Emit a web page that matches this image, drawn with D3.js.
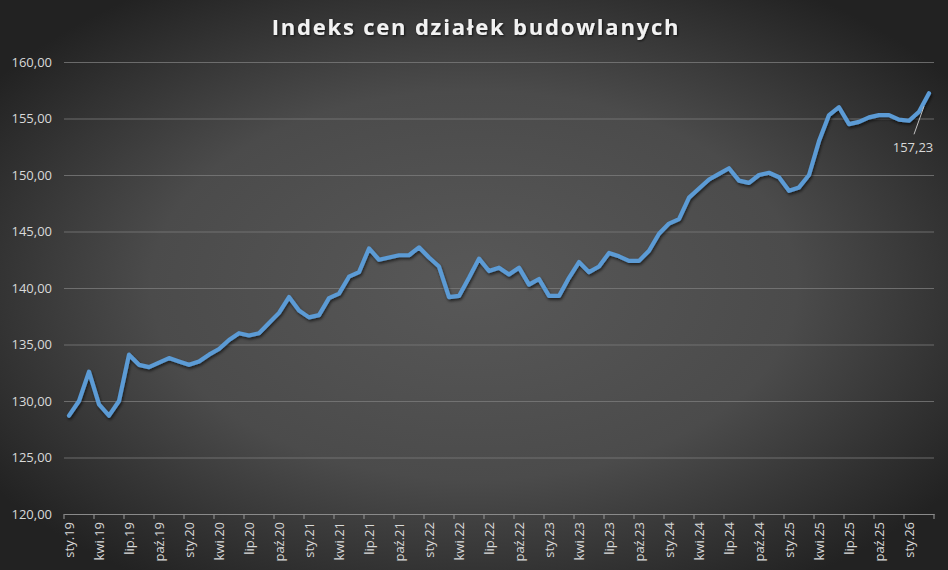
<!DOCTYPE html>
<html>
<head>
<meta charset="utf-8">
<script src="https://cdn.jsdelivr.net/npm/d3@7"></script>
<style>
  html, body { margin: 0; padding: 0; background: #2a2a2a; }
  svg { display: block; }
</style>
</head>
<body>
<div id="chart"></div>
<script>
// Polish month abbreviations and years on the category axis
const monthNames = ["sty", "lut", "mar", "kwi", "maj", "cze", "lip", "sie", "wrz", "paź", "lis", "gru"];
const years = ["19", "20", "21", "22", "23", "24", "25", "26"];

// Index values, sty.19 .. mar.26
const values = [
    128.7, 130.0, 132.6, 129.7, 128.7, 130.0, 134.1, 133.2, 133.0, 133.4, 133.8, 133.5,
    133.2, 133.5, 134.1, 134.6, 135.4, 136.0, 135.8, 136.0, 136.9, 137.8, 139.2, 138.0,
    137.4, 137.6, 139.1, 139.5, 141.0, 141.4, 143.5, 142.5, 142.7, 142.9, 142.9, 143.6,
    142.7, 141.9, 139.2, 139.3, 140.9, 142.6, 141.5, 141.8, 141.2, 141.8, 140.3, 140.8,
    139.3, 139.3, 140.9, 142.3, 141.4, 141.9, 143.1, 142.8, 142.4, 142.4, 143.3, 144.8,
    145.7, 146.1, 148.0, 148.8, 149.6, 150.1, 150.6, 149.5, 149.3, 150.0, 150.2, 149.8,
    148.6, 148.9, 150.0, 153.0, 155.3, 156.0, 154.5, 154.7, 155.1, 155.3, 155.3, 154.9,
    154.8, 155.6, 157.23
];

const yTicks = [120, 125, 130, 135, 140, 145, 150, 155, 160];

// build category labels from months and years
const categories = [];
years.forEach(y => monthNames.forEach(m => categories.push(m + "." + y)));
categories.length = values.length;

const data = values.map((v, i) => ({ cat: categories[i], value: v }));

const width = 948;
const height = 570;
const margin = { top: 62, right: 14, bottom: 56, left: 64 };

const svg = d3.select("#chart").append("svg")
    .attr("width", width)
    .attr("height", height);

const defs = svg.append("defs");

const bg = defs.append("radialGradient")
    .attr("id", "bg")
    .attr("cx", "50%").attr("cy", "50%").attr("r", "62%");
bg.append("stop").attr("offset", "0%").attr("stop-color", "#585858");
bg.append("stop").attr("offset", "55%").attr("stop-color", "#4b4b4b");
bg.append("stop").attr("offset", "100%").attr("stop-color", "#222222");

const shadow = defs.append("filter")
    .attr("id", "shadow")
    .attr("x", "-10%").attr("y", "-10%").attr("width", "120%").attr("height", "130%");
shadow.append("feDropShadow")
    .attr("dx", 1).attr("dy", 2).attr("stdDeviation", 1.5)
    .attr("flood-color", "#000").attr("flood-opacity", 0.6);

const titleShadow = defs.append("filter").attr("id", "tshadow");
titleShadow.append("feDropShadow")
    .attr("dx", 1).attr("dy", 1).attr("stdDeviation", 1)
    .attr("flood-color", "#000").attr("flood-opacity", 0.7);

svg.append("rect")
    .attr("width", width)
    .attr("height", height)
    .attr("fill", "url(#bg)");

// Scales
const x = d3.scaleBand()
    .domain(categories)
    .range([margin.left, width - margin.right])
    .padding(0);

const y = d3.scaleLinear()
    .domain([120, 160])
    .range([height - margin.bottom, margin.top]);

const fmt = d => d3.format(".2f")(d).replace(".", ",");

// Y axis with gridlines
const yAxis = svg.append("g")
    .attr("transform", `translate(${margin.left},0)`)
    .call(d3.axisLeft(y)
        .tickValues(yTicks)
        .tickFormat(fmt)
        .tickSize(-(width - margin.left - margin.right))
        .tickPadding(12));

yAxis.select(".domain").remove();
yAxis.selectAll(".tick line")
    .attr("stroke", "#7a7a7a")
    .attr("stroke-opacity", 0.8)
    .attr("stroke-width", 1.2);
yAxis.selectAll(".tick text")
    .attr("fill", "#d9d9d9")
    .style("font-family", "'Open Sans', sans-serif")
    .style("font-size", "13px");

// X axis labels every 3 months
const labelCats = categories.filter((c, i) => i % 3 === 0);

const xAxis = svg.append("g")
    .attr("transform", `translate(0,${height - margin.bottom})`)
    .call(d3.axisBottom(x)
        .tickValues(labelCats)
        .tickSize(0)
        .tickPadding(0));

xAxis.select(".domain")
    .attr("stroke", "#8a8a8a")
    .attr("stroke-width", 1.2);
xAxis.selectAll(".tick text")
    .attr("fill", "#d9d9d9")
    .style("font-family", "'Open Sans', sans-serif")
    .style("font-size", "13px")
    .attr("text-anchor", "end")
    .attr("transform", "rotate(-90)")
    .attr("x", -8)
    .attr("y", 0)
    .attr("dy", "0.35em");

// tick marks between categories
const tickCats = labelCats.map(c => x(c)).concat([x(categories[categories.length - 1]) + x.bandwidth()]);
svg.append("g")
    .selectAll("line")
    .data(tickCats)
    .enter().append("line")
    .attr("x1", d => d)
    .attr("x2", d => d)
    .attr("y1", height - margin.bottom)
    .attr("y2", height - margin.bottom + 5)
    .attr("stroke", "#8a8a8a")
    .attr("stroke-width", 1.2);

// Line
const line = d3.line()
    .x(d => x(d.cat) + x.bandwidth() / 2)
    .y(d => y(d.value));

svg.append("path")
    .datum(data)
    .attr("fill", "none")
    .attr("stroke", "#5b9bd5")
    .attr("stroke-width", 4.2)
    .attr("stroke-linejoin", "round")
    .attr("stroke-linecap", "round")
    .attr("filter", "url(#shadow)")
    .attr("d", line);

// Label for the last value with a leader line
const last = data[data.length - 1];
const lx = x(last.cat) + x.bandwidth() / 2;
const ly = y(last.value);

svg.append("line")
    .attr("x1", lx - 5)
    .attr("y1", ly + 13)
    .attr("x2", lx - 15)
    .attr("y2", ly + 41)
    .attr("stroke", "#bfbfbf")
    .attr("stroke-width", 1);

svg.append("text")
    .attr("x", lx - 16)
    .attr("y", ly + 59)
    .attr("text-anchor", "middle")
    .attr("fill", "#d9d9d9")
    .style("font-family", "'Open Sans', sans-serif")
    .style("font-size", "13px")
    .text(fmt(last.value));

// Title
svg.append("text")
    .attr("x", width / 2 + 2)
    .attr("y", 35)
    .attr("text-anchor", "middle")
    .attr("fill", "#f2f2f2")
    .attr("filter", "url(#tshadow)")
    .style("font-family", "'Open Sans', sans-serif")
    .style("font-weight", "bold")
    .style("font-size", "22px")
    .style("letter-spacing", "1.8px")
    .text("Indeks cen działek budowlanych");
</script>
</body>
</html>
